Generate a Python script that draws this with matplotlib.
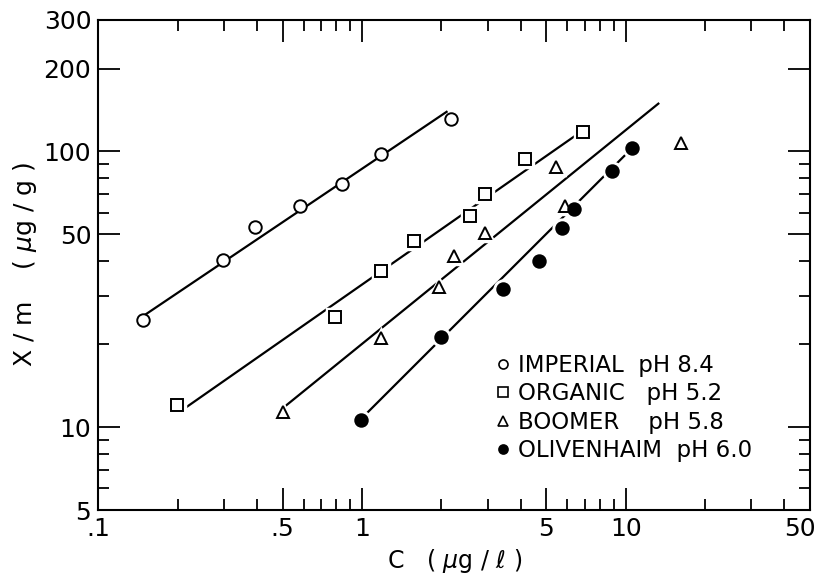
import matplotlib
matplotlib.use("Agg")
import matplotlib.pyplot as plt
from matplotlib.lines import Line2D
from matplotlib.ticker import FixedLocator, FixedFormatter, NullFormatter
from matplotlib.transforms import ScaledTranslation

# Adsorption isotherms: C (ug/l) vs X/m (ug/g)
imperial_c = [0.148, 0.296, 0.393, 0.584, 0.840, 1.18, 2.17]
imperial_xm = [24.4, 40.4, 53.3, 63.2, 75.9, 97.8, 131]
imperial_fit_c = [0.149, 2.11]
imperial_fit_xm = [25.4, 140]

organic_c = [0.199, 0.790, 1.18, 1.57, 2.56, 2.92, 4.16, 6.86]
organic_xm = [12.0, 25.1, 36.7, 47.5, 58.5, 70.0, 94.2, 118]
organic_fit_c = [0.21, 6.86]
organic_fit_xm = [11.6, 119]

boomer_c = [0.50, 1.18, 1.96, 2.23, 2.93, 5.45, 5.91, 16.2]
boomer_xm = [11.3, 21.1, 32.1, 41.9, 50.7, 88.1, 63.2, 107]
boomer_fit_c = [0.50, 13.4]
boomer_fit_xm = [11.7, 150]

oliv_c = [0.989, 1.99, 3.42, 4.71, 5.71, 6.35, 8.88, 10.57]
oliv_xm = [10.6, 21.2, 31.6, 40.1, 52.7, 62.0, 84.9, 102.8]
oliv_fit_c = [1.04, 10.57]
oliv_fit_xm = [11.2, 102.8]

legend_labels = ["IMPERIAL  pH 8.4", "ORGANIC   pH 5.2",
                 "BOOMER    pH 5.8", "OLIVENHAIM  pH 6.0"]

x_major = [0.1, 0.5, 1, 5, 10, 50]
x_major_labels = [".1", ".5", "1", "5", "10", "50"]
x_minor = [0.2, 0.3, 0.4, 0.6, 0.7, 0.8, 0.9, 2, 3, 4, 6, 7, 8, 9, 20, 30, 40]
y_major = [5, 10, 50, 100, 200, 300]
y_major_labels = ["5", "10", "50", "100", "200", "300"]
y_minor = [6, 7, 8, 9, 20, 30, 40, 60, 70, 80, 90]

plt.rcParams["font.family"] = ["DejaVu Sans"]

fig = plt.figure(figsize=(8.22, 5.73), dpi=100)
ax = fig.add_axes([0.1196, 0.1099, 0.8658, 0.8552])
ax.set_xscale("log")
ax.set_yscale("log")

series = [
    (imperial_c, imperial_xm, imperial_fit_c, imperial_fit_xm, "o", "white", 9, False),
    (organic_c, organic_xm, organic_fit_c, organic_fit_xm, "s", "white", 8, True),
    (boomer_c, boomer_xm, boomer_fit_c, boomer_fit_xm, "^", "white", 9, True),
    (oliv_c, oliv_xm, oliv_fit_c, oliv_fit_xm, "o", "black", 9, True),
]

handles = []
for c, xm, fc, fxm, mk, face, ms, halo in series:
    ax.plot(fc, fxm, color="black", lw=1.6, zorder=2, solid_capstyle="butt")
    if halo:
        # white ring so the fitted line breaks around each point, as in the print
        ax.plot(c, xm, ls="none", marker=mk, ms=ms + 3, mfc="white", mec="white",
                mew=2.5, zorder=3)
    ax.plot(c, xm, ls="none", marker=mk, ms=ms, mfc=face, mec="black",
            mew=1.4, zorder=4)
    handles.append(Line2D([], [], ls="none", marker=mk, ms=6.5, mfc=face,
                          mec="black", mew=1.2))

ax.set_xlim(0.1, 50)
ax.set_ylim(5, 300)

ax.xaxis.set_major_locator(FixedLocator(x_major))
ax.xaxis.set_major_formatter(FixedFormatter(x_major_labels))
ax.xaxis.set_minor_locator(FixedLocator(x_minor))
ax.xaxis.set_minor_formatter(NullFormatter())
ax.yaxis.set_major_locator(FixedLocator(y_major))
ax.yaxis.set_major_formatter(FixedFormatter(y_major_labels))
ax.yaxis.set_minor_locator(FixedLocator(y_minor))
ax.yaxis.set_minor_formatter(NullFormatter())

ax.tick_params(which="both", direction="in", top=True, right=True,
               width=1.3, labelsize=18, pad=5)
ax.tick_params(which="major", length=16)
ax.tick_params(which="minor", length=8)
for sp in ax.spines.values():
    sp.set_linewidth(1.5)

# keep the last x label inside the canvas
fig.canvas.draw()
last = ax.get_xticklabels()[-1]
last.set_transform(last.get_transform() + ScaledTranslation(-7 / 72, 0, fig.dpi_scale_trans))

ax.set_xlabel(r"C   ( $\mu$g / ℓ )", fontsize=17, labelpad=4)
ax.set_ylabel(r"X / m    ( $\mu$g / g )", fontsize=18)
ax.yaxis.set_label_coords(-0.083, 0.5)

ax.legend(handles, legend_labels, loc="upper left", bbox_to_anchor=(0.557, 0.318),
          frameon=False, fontsize=16.5, handlelength=0.7, handletextpad=0.3,
          labelspacing=0.23, borderpad=0, borderaxespad=0)

fig.savefig("out.png", dpi=100, facecolor="white")
